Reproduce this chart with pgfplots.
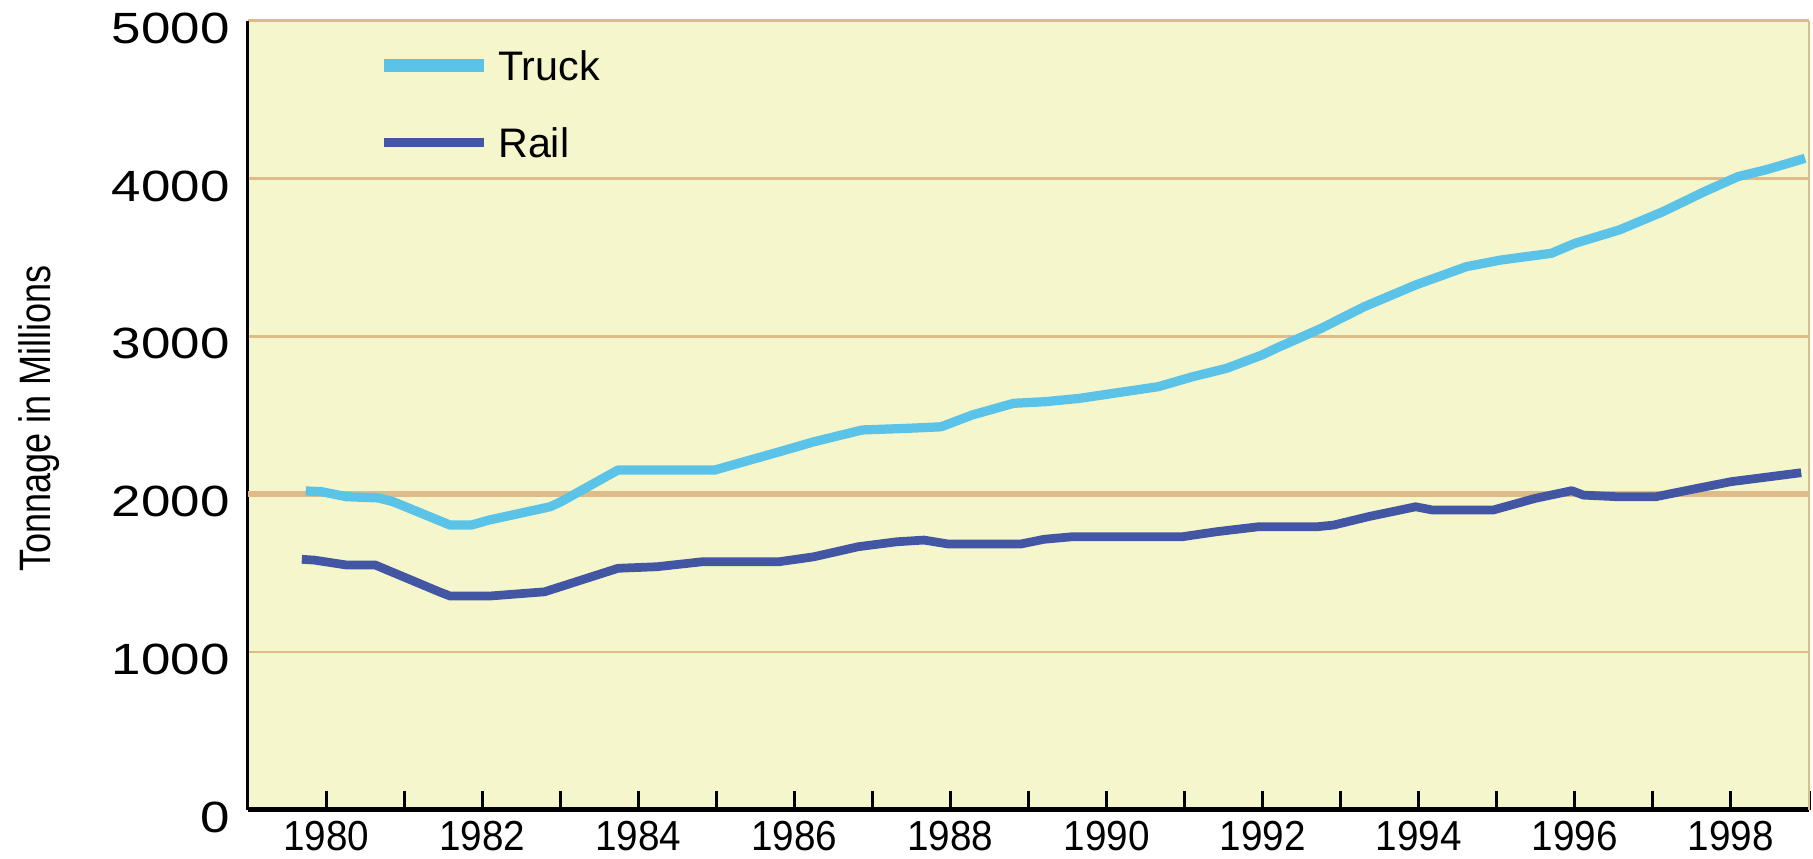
\documentclass[border=0pt]{standalone}
\usepackage{fontspec}
\setmainfont{Liberation Sans}
\usepackage{graphicx}
\usepackage{pgfplots}
\pgfplotsset{compat=1.18}
\definecolor{bgyellow}{HTML}{F6F6CC}
\definecolor{gridtan}{HTML}{DEBB88}
\definecolor{truckblue}{HTML}{5CC3E8}
\definecolor{railblue}{HTML}{4356A3}
\newcommand{\yl}[1]{\scalebox{1.21}[1]{#1}}
\newcommand{\xl}[1]{\scalebox{0.92}[1]{#1}}
\pgfplotsset{
  truckleg/.style={legend image code/.code={\draw[##1, line width=5pt] (0pt,0pt) -- (40pt,0pt); \path (43.8pt,0pt);}},
  railleg/.style={legend image code/.code={\draw[##1, line width=3.6pt] (0pt,0pt) -- (40pt,0pt); \path (43.8pt,0pt);}},
}
\begin{document}
\begin{tikzpicture}
\begin{axis}[
  scale only axis,
  width=624.4pt, height=315.5pt,
  xmin=1979, xmax=1999,
  ymin=0, ymax=5000,
  axis background/.style={fill=bgyellow},
  axis x line*=bottom,
  axis y line*=left,
  x axis line style={-, line width=2pt, black},
  y axis line style={-, line width=1.2pt, black},
  xtick={1980,1982,...,1998},
  xticklabels={\xl{1980},\xl{1982},\xl{1984},\xl{1986},\xl{1988},\xl{1990},\xl{1992},\xl{1994},\xl{1996},\xl{1998}},
  minor xtick={1981,1983,...,1999},
  tick align=inside,
  major tick length=7.5pt,
  minor tick length=7.5pt,
  xtick style={line width=1.2pt, black},
  minor x tick style={line width=1.2pt, black},
  xticklabel style={font=\fontsize{16.8}{17}\selectfont, inner sep=0pt, anchor=north, yshift=-4.6pt},
  ytick={0,1000,...,5000},
  yticklabels={\yl{0},\yl{1000},\yl{2000},\yl{3000},\yl{4000},\yl{5000}},
  ytick style={draw=none},
  yticklabel style={font=\fontsize{17.5}{18}\selectfont, inner sep=0pt, anchor=east, xshift=-7.2pt, yshift=-3pt},
  ymajorgrids,
  grid style={gridtan, line width=1pt},
  extra y ticks={2000},
  extra y tick labels={},
  extra y tick style={grid style={gridtan, line width=2.3pt}},
  every axis y label/.style={at={(axis description cs:-0.1268,0.4958)}, rotate=90, anchor=base},
  ylabel={\fontsize{17.6}{18}\selectfont\scalebox{0.82}[1]{Tonnage in Millions}},
  legend style={at={(axis description cs:0.0829,0.9629)}, anchor=north west, draw=none, fill=none, inner sep=0pt,
    nodes={inner sep=0pt, text height=12pt, text depth=0pt, font=\fontsize{16.5}{17}\selectfont}, row sep=18.7pt},
  legend cell align=left,
  after end axis/.code={\draw[gridtan, line width=0.8pt] (rel axis cs:1,0) -- (rel axis cs:1,1);},
]
\addplot[truckblue, line width=3.7pt, line join=round, truckleg]
  coordinates {
(1979.74,2019) (1979.94,2015) (1980.26,1983) (1980.67,1975) (1980.86,1951)
(1981.59,1803) (1981.86,1803) (1982.09,1835) (1982.87,1919) (1983.01,1951)
(1983.74,2152) (1984.98,2152) (1985.81,2268) (1986.25,2331) (1986.87,2406)
(1987.44,2416) (1987.88,2426) (1988.28,2501) (1988.81,2575) (1989.21,2585)
(1989.65,2606) (1990.22,2648) (1990.66,2680) (1991.10,2743) (1991.54,2797)
(1991.99,2881) (1992.20,2930) (1992.75,3050) (1993.30,3187) (1993.96,3325)
(1994.61,3441) (1995.05,3483) (1995.70,3526) (1996.00,3589) (1996.57,3674)
(1997.13,3790) (1997.66,3917) (1998.09,4012) (1998.44,4054) (1998.95,4128)
};
\addlegendentry{Truck}
\addplot[railblue, line width=3.5pt, line join=round, railleg]
  coordinates {
(1979.69,1586) (1979.85,1581) (1980.26,1550) (1980.63,1550) (1981.45,1380)
(1981.59,1353) (1982.09,1353) (1982.80,1380) (1983.74,1529) (1984.24,1539)
(1984.83,1571) (1985.81,1571) (1986.25,1602) (1986.82,1666) (1987.31,1697)
(1987.66,1708) (1987.97,1683) (1988.90,1683) (1989.20,1713) (1989.56,1729)
(1990.97,1729) (1991.41,1761) (1991.94,1792) (1992.69,1792) (1992.91,1803)
(1993.35,1856) (1993.96,1919) (1994.18,1898) (1994.95,1898) (1995.49,1972)
(1995.96,2021) (1996.11,1993) (1996.57,1982) (1997.03,1982) (1997.57,2036)
(1998.00,2078) (1998.90,2135)
};
\addlegendentry{Rail}
\end{axis}
\pgfresetboundingbox
\useasboundingbox (-99.2pt,-19.4pt) rectangle (626pt,323.8pt);
\end{tikzpicture}
\end{document}
